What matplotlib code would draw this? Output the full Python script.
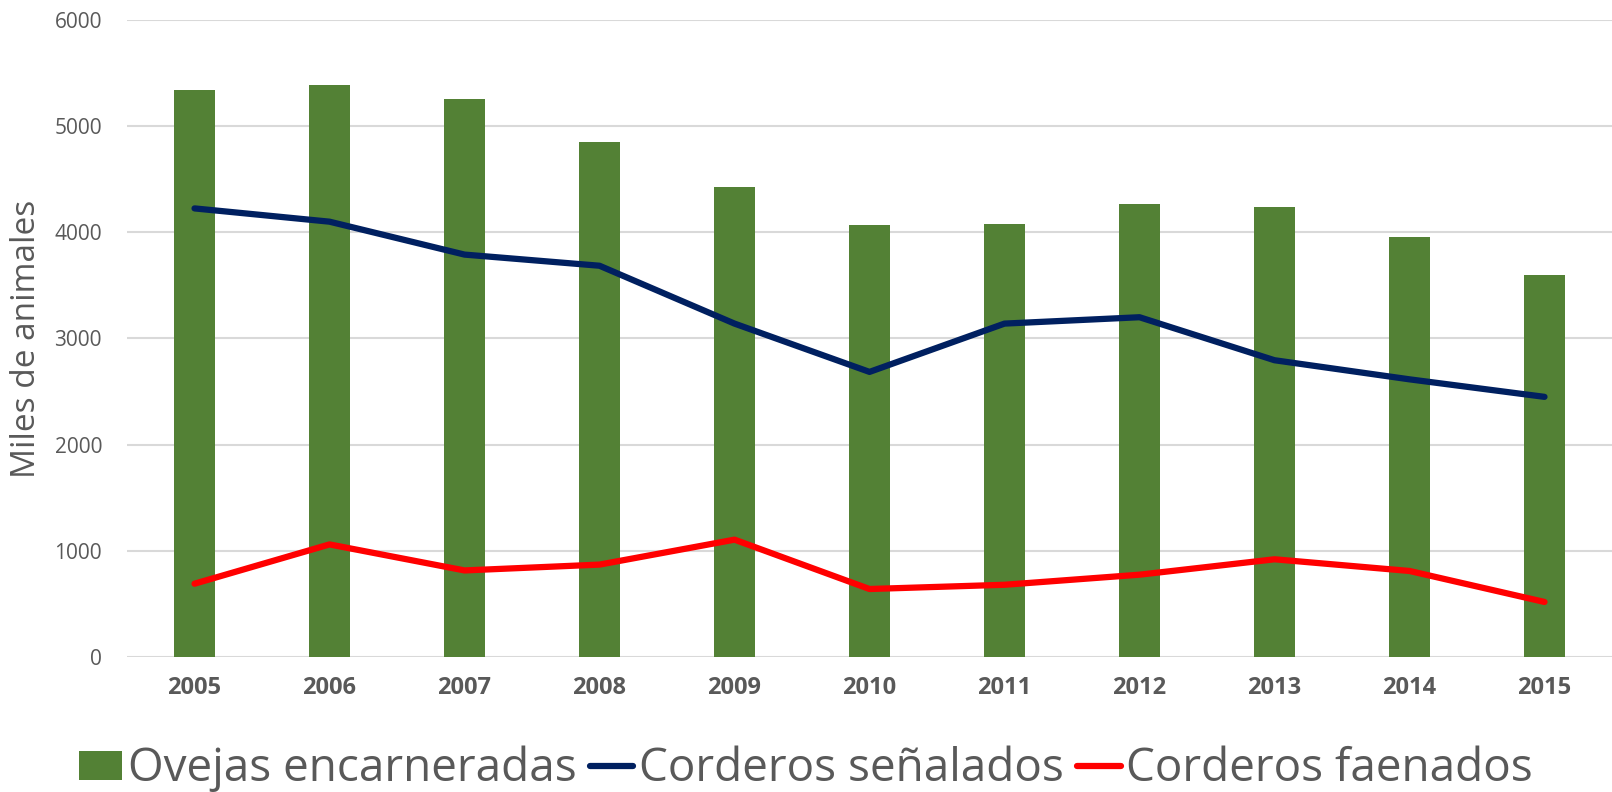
import numpy as np
import matplotlib
matplotlib.use('Agg')
import matplotlib.pyplot as plt

# Data (miles de animales)
years = ['2005', '2006', '2007', '2008', '2009', '2010', '2011', '2012', '2013', '2014', '2015']
ovejas = [5340, 5390, 5255, 4850, 4430, 4070, 4080, 4265, 4240, 3955, 3600]
senalados = [4225, 4100, 3790, 3685, 3140, 2685, 3140, 3200, 2795, 2615, 2450]
faenados = [690, 1060, 815, 870, 1105, 640, 680, 775, 920, 810, 518]

plt.rcParams['font.family'] = ['Open Sans', 'DejaVu Sans']
text_color = '#595959'

fig = plt.figure(figsize=(16.12, 7.92), dpi=100)
ax = fig.add_axes([0.0788, 0.1705, 0.9212, 0.8043])

x = np.arange(len(years))
bars = ax.bar(x, ovejas, width=0.31, color='#538135', label='Ovejas encarneradas', zorder=2)
l1, = ax.plot(x, senalados, color='#002060', lw=4.5, solid_capstyle='round',
              solid_joinstyle='round', label='Corderos señalados', zorder=3)
l2, = ax.plot(x, faenados, color='#FF0000', lw=4.5, solid_capstyle='round',
              solid_joinstyle='round', label='Corderos faenados', zorder=3)

ax.set_xlim(-0.5, len(years) - 0.5)
ax.set_ylim(0, 6000)
ax.set_yticks(range(0, 6001, 1000))
ax.set_xticks(x)
ax.set_xticklabels(years, fontweight='bold', fontsize=17, color=text_color)
ax.tick_params(axis='y', labelsize=15, labelcolor=text_color, length=0, pad=18)
ax.tick_params(axis='x', length=0, pad=14)

ax.grid(axis='y', color='#D9D9D9', lw=1.5, zorder=0)
for s in ax.spines.values():
    s.set_visible(False)

ax.set_ylabel('Miles de animales', fontsize=24, color=text_color, labelpad=8)

leg = fig.legend(handles=[bars, l1, l2], loc='center', bbox_to_anchor=(0.5, 0.029),
                 ncol=3, frameon=False, fontsize=33, handlelength=0.94,
                 handletextpad=0.12, columnspacing=0.3, handleheight=0.6)
for t in leg.get_texts():
    t.set_color(text_color)

fig.savefig('out.png', dpi=100)
